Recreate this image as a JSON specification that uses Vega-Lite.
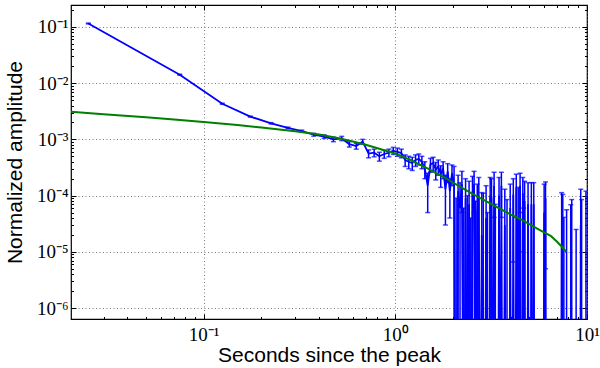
{
  "$schema": "https://vega.github.io/schema/vega-lite/v6.json",
  "width": 516,
  "height": 314,
  "autosize": {"type": "none"},
  "padding": {"left": 71, "top": 5, "right": 13, "bottom": 49},
  "background": "white",
  "config": {
    "view": {"stroke": "#000000", "strokeWidth": 1.2},
    "axis": {"tickColor": "#000000", "tickWidth": 1, "domain": false, "grid": false, "labels": false, "title": null, "labelOverlap": false, "labelFlush": false}
  },
  "datasets": {
    "model": [
      {"x": 0.02, "y": 0.0031}, {"x": 0.03, "y": 0.0028}, {"x": 0.05, "y": 0.00247}, {"x": 0.07, "y": 0.00225},
      {"x": 0.1, "y": 0.00204}, {"x": 0.15, "y": 0.0018}, {"x": 0.2, "y": 0.00163}, {"x": 0.3, "y": 0.0014},
      {"x": 0.4, "y": 0.00122}, {"x": 0.5, "y": 0.00106}, {"x": 0.6, "y": 0.00092}, {"x": 0.7, "y": 0.0008},
      {"x": 0.8, "y": 0.0007}, {"x": 0.9, "y": 0.00062}, {"x": 1.0, "y": 0.00056}, {"x": 1.1, "y": 0.00049},
      {"x": 1.2, "y": 0.00043}, {"x": 1.3, "y": 0.000375}, {"x": 1.4, "y": 0.00033}, {"x": 1.5, "y": 0.000295},
      {"x": 1.6, "y": 0.00026}, {"x": 1.8, "y": 0.00021}, {"x": 2.0, "y": 0.00017}, {"x": 2.5, "y": 0.00011},
      {"x": 3.0, "y": 0.000078}, {"x": 3.5, "y": 0.000059}, {"x": 4.0, "y": 0.000046}, {"x": 4.5, "y": 0.000038},
      {"x": 5.0, "y": 0.000031}, {"x": 5.5, "y": 0.000026}, {"x": 6.0, "y": 0.000022}, {"x": 6.5, "y": 0.000019},
      {"x": 7.0, "y": 0.000015}, {"x": 7.5, "y": 0.0000117}, {"x": 7.8, "y": 0.00001}
    ],
    "obs": [
      {"x": 0.025, "y": 0.115, "lo": 0.113, "hi": 0.117},
      {"x": 0.075, "y": 0.0141, "lo": 0.0138, "hi": 0.0144},
      {"x": 0.125, "y": 0.0043, "lo": 0.0042, "hi": 0.0044},
      {"x": 0.175, "y": 0.00254, "lo": 0.00249, "hi": 0.00259},
      {"x": 0.225, "y": 0.00193, "lo": 0.00188, "hi": 0.00198},
      {"x": 0.275, "y": 0.0016, "lo": 0.00155, "hi": 0.00165},
      {"x": 0.325, "y": 0.0014, "lo": 0.00134, "hi": 0.00146},
      {"x": 0.375, "y": 0.00121, "lo": 0.00114, "hi": 0.00128},
      {"x": 0.425, "y": 0.00112, "lo": 0.00104, "hi": 0.0012},
      {"x": 0.475, "y": 0.001, "lo": 0.00091, "hi": 0.00109},
      {"x": 0.525, "y": 0.00104, "lo": 0.00095, "hi": 0.00113},
      {"x": 0.575, "y": 0.00082, "lo": 0.00073, "hi": 0.00091},
      {"x": 0.625, "y": 0.00076, "lo": 0.00067, "hi": 0.00085},
      {"x": 0.675, "y": 0.00091, "lo": 0.00082, "hi": 0.001},
      {"x": 0.725, "y": 0.00056, "lo": 0.00047, "hi": 0.00065},
      {"x": 0.775, "y": 0.00058, "lo": 0.00049, "hi": 0.00067},
      {"x": 0.825, "y": 0.0005, "lo": 0.00041, "hi": 0.00059},
      {"x": 0.875, "y": 0.00055, "lo": 0.00046, "hi": 0.00064},
      {"x": 0.925, "y": 0.00058, "lo": 0.00049, "hi": 0.00067},
      {"x": 0.975, "y": 0.00063, "lo": 0.00054, "hi": 0.00072},
      {"x": 1.025, "y": 0.0006, "lo": 0.0005, "hi": 0.0007},
      {"x": 1.075, "y": 0.00057, "lo": 0.00047, "hi": 0.00067},
      {"x": 1.125, "y": 0.00043, "lo": 0.00033, "hi": 0.00053},
      {"x": 1.175, "y": 0.0004, "lo": 0.0003, "hi": 0.0005},
      {"x": 1.225, "y": 0.00038, "lo": 0.00028, "hi": 0.00048},
      {"x": 1.275, "y": 0.00043, "lo": 0.00033, "hi": 0.00053},
      {"x": 1.325, "y": 0.00045, "lo": 0.00035, "hi": 0.00055},
      {"x": 1.375, "y": 0.0004, "lo": 0.0003, "hi": 0.0005},
      {"x": 1.425, "y": 0.0003, "lo": 0.0002, "hi": 0.0004},
      {"x": 1.475, "y": 0.00015, "lo": 0.00005, "hi": 0.00025},
      {"x": 1.525, "y": 0.00036, "lo": 0.00026, "hi": 0.00046},
      {"x": 1.575, "y": 0.00038, "lo": 0.00028, "hi": 0.00048},
      {"x": 1.625, "y": 0.00029, "lo": 0.00019, "hi": 0.00039},
      {"x": 1.675, "y": 0.00033, "lo": 0.00023, "hi": 0.00043},
      {"x": 1.725, "y": 0.00024, "lo": 0.00014, "hi": 0.00034},
      {"x": 1.775, "y": 0.0003, "lo": 0.0002, "hi": 0.0004},
      {"x": 1.825, "y": 0.00013, "lo": 0.00003, "hi": 0.00023},
      {"x": 1.875, "y": 0.00027, "lo": 0.00017, "hi": 0.00037},
      {"x": 1.925, "y": 0.00012, "lo": 0.00004, "hi": 0.0002},
      {"x": 1.975, "y": 0.00025, "lo": 0.00015, "hi": 0.00035},
      {"x": 2.025, "y": 0.00016, "lo": 1e-10, "hi": 0.00033},
      {"x": 2.075, "y": 1e-10, "lo": 1e-10, "hi": 0.00009},
      {"x": 2.125, "y": 0.00012, "lo": 1e-10, "hi": 0.00023},
      {"x": 2.175, "y": 0.00006, "lo": 1e-10, "hi": 0.00017},
      {"x": 2.225, "y": 0.00016, "lo": 0.00005, "hi": 0.00027},
      {"x": 2.275, "y": 1e-10, "lo": 1e-10, "hi": 0.00006},
      {"x": 2.325, "y": 0.00009, "lo": 1e-10, "hi": 0.0002},
      {"x": 2.375, "y": 1e-10, "lo": 1e-10, "hi": 0.0001},
      {"x": 2.425, "y": 0.00007, "lo": 1e-10, "hi": 0.00018},
      {"x": 2.475, "y": 1e-10, "lo": 1e-10, "hi": 0.00004},
      {"x": 2.525, "y": 0.00011, "lo": 1e-10, "hi": 0.00022},
      {"x": 2.575, "y": 0.00016, "lo": 0.00005, "hi": 0.00027},
      {"x": 2.625, "y": 1e-10, "lo": 1e-10, "hi": 0.00008},
      {"x": 2.675, "y": 0.00005, "lo": 1e-10, "hi": 0.00016},
      {"x": 2.725, "y": 0.0001, "lo": 1e-10, "hi": 0.00021},
      {"x": 2.775, "y": 1e-10, "lo": 1e-10, "hi": 1e-10},
      {"x": 2.825, "y": 0.00002, "lo": 1e-10, "hi": 0.000113},
      {"x": 2.875, "y": 1e-10, "lo": 1e-10, "hi": 0.00011},
      {"x": 2.925, "y": 1e-10, "lo": 1e-10, "hi": 1e-10},
      {"x": 2.975, "y": 0.00004, "lo": 1e-10, "hi": 0.00015},
      {"x": 3.025, "y": 1e-10, "lo": 1e-10, "hi": 0.00005},
      {"x": 3.075, "y": 1e-10, "lo": 1e-10, "hi": 1e-10},
      {"x": 3.125, "y": 0.0001, "lo": 1e-10, "hi": 0.00021},
      {"x": 3.175, "y": 0.00009, "lo": 1e-10, "hi": 0.0002},
      {"x": 3.225, "y": 1e-10, "lo": 1e-10, "hi": 1e-10},
      {"x": 3.275, "y": 0.00015, "lo": 0.000041, "hi": 0.00026},
      {"x": 3.325, "y": 1e-10, "lo": 1e-10, "hi": 0.00007},
      {"x": 3.375, "y": 1e-10, "lo": 1e-10, "hi": 1e-10},
      {"x": 3.425, "y": 1e-10, "lo": 1e-10, "hi": 1e-10},
      {"x": 3.475, "y": 0.0001, "lo": 1e-10, "hi": 0.00021},
      {"x": 3.525, "y": 1e-10, "lo": 1e-10, "hi": 1e-10},
      {"x": 3.575, "y": 0.00015, "lo": 0.000041, "hi": 0.00026},
      {"x": 3.625, "y": 1e-10, "lo": 1e-10, "hi": 1e-10},
      {"x": 3.675, "y": 1e-10, "lo": 1e-10, "hi": 1e-10},
      {"x": 3.725, "y": 0.00003, "lo": 1e-10, "hi": 0.00013},
      {"x": 3.775, "y": 1e-10, "lo": 1e-10, "hi": 1e-10},
      {"x": 3.825, "y": 1e-10, "lo": 1e-10, "hi": 0.000085},
      {"x": 3.875, "y": 1e-10, "lo": 1e-10, "hi": 1e-10},
      {"x": 3.925, "y": 1e-10, "lo": 1e-10, "hi": 1e-10},
      {"x": 3.975, "y": 0.00006, "lo": 1e-10, "hi": 0.00016},
      {"x": 4.025, "y": 1e-10, "lo": 1e-10, "hi": 1e-10},
      {"x": 4.075, "y": 1e-10, "lo": 1e-10, "hi": 1e-10},
      {"x": 4.125, "y": 0.000105, "lo": 0.0000066, "hi": 0.0002},
      {"x": 4.175, "y": 1e-10, "lo": 1e-10, "hi": 1e-10},
      {"x": 4.225, "y": 1e-10, "lo": 1e-10, "hi": 1e-10},
      {"x": 4.275, "y": 0.00014, "lo": 0.000041, "hi": 0.00024},
      {"x": 4.325, "y": 1e-10, "lo": 1e-10, "hi": 1e-10},
      {"x": 4.375, "y": 0.00004, "lo": 1e-10, "hi": 0.00014},
      {"x": 4.425, "y": 1e-10, "lo": 1e-10, "hi": 1e-10},
      {"x": 4.475, "y": 0.00015, "lo": 0.00005, "hi": 0.00025},
      {"x": 4.525, "y": 1e-10, "lo": 1e-10, "hi": 1e-10},
      {"x": 4.575, "y": 1e-10, "lo": 1e-10, "hi": 1e-10},
      {"x": 4.625, "y": 0.00011, "lo": 0.00001, "hi": 0.00021},
      {"x": 4.675, "y": 1e-10, "lo": 1e-10, "hi": 0.00006},
      {"x": 4.725, "y": 0.00008, "lo": 1e-10, "hi": 0.00018},
      {"x": 4.775, "y": 1e-10, "lo": 1e-10, "hi": 1e-10},
      {"x": 4.825, "y": 1e-10, "lo": 1e-10, "hi": 1e-10},
      {"x": 4.875, "y": 1e-10, "lo": 1e-10, "hi": 1e-10},
      {"x": 4.925, "y": 0.00007, "lo": 1e-10, "hi": 0.00017},
      {"x": 4.975, "y": 1e-10, "lo": 1e-10, "hi": 1e-10},
      {"x": 5.025, "y": 1e-10, "lo": 1e-10, "hi": 1e-10},
      {"x": 5.075, "y": 1e-10, "lo": 1e-10, "hi": 1e-10},
      {"x": 5.125, "y": 0.00007, "lo": 1e-10, "hi": 0.00017},
      {"x": 5.175, "y": 1e-10, "lo": 1e-10, "hi": 1e-10},
      {"x": 5.225, "y": 1e-10, "lo": 1e-10, "hi": 1e-10},
      {"x": 5.275, "y": 0.00007, "lo": 1e-10, "hi": 0.00017},
      {"x": 5.325, "y": 1e-10, "lo": 1e-10, "hi": 1e-10},
      {"x": 5.375, "y": 1e-10, "lo": 1e-10, "hi": 1e-10},
      {"x": 5.425, "y": 1e-10, "lo": 1e-10, "hi": 1e-10},
      {"x": 5.475, "y": 1e-10, "lo": 1e-10, "hi": 1e-10},
      {"x": 5.525, "y": 1e-10, "lo": 1e-10, "hi": 1e-10},
      {"x": 5.575, "y": 1e-10, "lo": 1e-10, "hi": 1e-10},
      {"x": 5.625, "y": 1e-10, "lo": 1e-10, "hi": 1e-10},
      {"x": 5.675, "y": 1e-10, "lo": 1e-10, "hi": 1e-10},
      {"x": 5.725, "y": 1e-10, "lo": 1e-10, "hi": 1e-10},
      {"x": 5.775, "y": 1e-10, "lo": 1e-10, "hi": 1e-10},
      {"x": 5.825, "y": 1e-10, "lo": 1e-10, "hi": 1e-10},
      {"x": 5.875, "y": 1e-10, "lo": 1e-10, "hi": 1e-10},
      {"x": 5.925, "y": 1e-10, "lo": 1e-10, "hi": 1e-10},
      {"x": 5.975, "y": 0.00005, "lo": 1e-10, "hi": 0.00016},
      {"x": 6.025, "y": 1e-10, "lo": 1e-10, "hi": 1e-10},
      {"x": 6.075, "y": 0.00009, "lo": 0.000005, "hi": 0.000175},
      {"x": 6.125, "y": 1e-10, "lo": 1e-10, "hi": 1e-10},
      {"x": 6.175, "y": 1e-10, "lo": 1e-10, "hi": 1e-10},
      {"x": 6.225, "y": 1e-10, "lo": 1e-10, "hi": 1e-10},
      {"x": 6.275, "y": 1e-10, "lo": 1e-10, "hi": 1e-10},
      {"x": 6.325, "y": 1e-10, "lo": 1e-10, "hi": 1e-10},
      {"x": 6.375, "y": 1e-10, "lo": 1e-10, "hi": 1e-10},
      {"x": 6.425, "y": 1e-10, "lo": 1e-10, "hi": 1e-10},
      {"x": 6.475, "y": 1e-10, "lo": 1e-10, "hi": 1e-10},
      {"x": 6.525, "y": 1e-10, "lo": 1e-10, "hi": 1e-10},
      {"x": 6.575, "y": 1e-10, "lo": 1e-10, "hi": 1e-10},
      {"x": 6.625, "y": 1e-10, "lo": 1e-10, "hi": 1e-10},
      {"x": 6.675, "y": 1e-10, "lo": 1e-10, "hi": 1e-10},
      {"x": 6.725, "y": 1e-10, "lo": 1e-10, "hi": 1e-10},
      {"x": 6.775, "y": 1e-10, "lo": 1e-10, "hi": 1e-10},
      {"x": 6.825, "y": 1e-10, "lo": 1e-10, "hi": 1e-10},
      {"x": 6.875, "y": 1e-10, "lo": 1e-10, "hi": 1e-10},
      {"x": 6.925, "y": 1e-10, "lo": 1e-10, "hi": 1e-10},
      {"x": 6.975, "y": 1e-10, "lo": 1e-10, "hi": 1e-10},
      {"x": 7.025, "y": 1e-10, "lo": 1e-10, "hi": 1e-10},
      {"x": 7.075, "y": 1e-10, "lo": 1e-10, "hi": 1e-10},
      {"x": 7.125, "y": 1e-10, "lo": 1e-10, "hi": 1e-10},
      {"x": 7.175, "y": 1e-10, "lo": 1e-10, "hi": 1e-10},
      {"x": 7.225, "y": 1e-10, "lo": 1e-10, "hi": 1e-10},
      {"x": 7.275, "y": 1e-10, "lo": 1e-10, "hi": 1e-10},
      {"x": 7.325, "y": 1e-10, "lo": 1e-10, "hi": 1e-10},
      {"x": 7.375, "y": 0.000013, "lo": 1e-10, "hi": 0.000113},
      {"x": 7.425, "y": 1e-10, "lo": 1e-10, "hi": 1e-10},
      {"x": 7.475, "y": 1e-10, "lo": 1e-10, "hi": 0.000105},
      {"x": 7.525, "y": 1e-10, "lo": 1e-10, "hi": 1e-10},
      {"x": 7.575, "y": 1e-10, "lo": 1e-10, "hi": 0.000041},
      {"x": 7.625, "y": 1e-10, "lo": 1e-10, "hi": 1e-10},
      {"x": 7.675, "y": 1e-10, "lo": 1e-10, "hi": 1e-10},
      {"x": 7.725, "y": 1e-10, "lo": 1e-10, "hi": 1e-10},
      {"x": 7.775, "y": 1e-10, "lo": 1e-10, "hi": 1e-10},
      {"x": 7.825, "y": 1e-10, "lo": 1e-10, "hi": 0.000056},
      {"x": 7.875, "y": 1e-10, "lo": 1e-10, "hi": 1e-10},
      {"x": 7.925, "y": 1e-10, "lo": 1e-10, "hi": 1e-10},
      {"x": 7.975, "y": 1e-10, "lo": 1e-10, "hi": 1e-10},
      {"x": 8.025, "y": 1e-10, "lo": 1e-10, "hi": 1e-10},
      {"x": 8.075, "y": 1e-10, "lo": 1e-10, "hi": 1e-10},
      {"x": 8.125, "y": 1e-10, "lo": 1e-10, "hi": 1e-10},
      {"x": 8.175, "y": 1e-10, "lo": 1e-10, "hi": 1e-10},
      {"x": 8.225, "y": 1e-10, "lo": 1e-10, "hi": 0.000069},
      {"x": 8.275, "y": 1e-10, "lo": 1e-10, "hi": 1e-10},
      {"x": 8.325, "y": 1e-10, "lo": 1e-10, "hi": 0.000085},
      {"x": 8.375, "y": 1e-10, "lo": 1e-10, "hi": 1e-10},
      {"x": 8.425, "y": 1e-10, "lo": 1e-10, "hi": 1e-10},
      {"x": 8.475, "y": 1e-10, "lo": 1e-10, "hi": 1e-10},
      {"x": 8.525, "y": 1e-10, "lo": 1e-10, "hi": 1e-10},
      {"x": 8.575, "y": 1e-10, "lo": 1e-10, "hi": 1e-10},
      {"x": 8.625, "y": 1e-10, "lo": 1e-10, "hi": 1e-10},
      {"x": 8.675, "y": 1e-10, "lo": 1e-10, "hi": 1e-10},
      {"x": 8.725, "y": 1e-10, "lo": 1e-10, "hi": 1e-10},
      {"x": 8.775, "y": 1e-10, "lo": 1e-10, "hi": 0.000025},
      {"x": 8.825, "y": 1e-10, "lo": 1e-10, "hi": 1e-10},
      {"x": 8.875, "y": 1e-10, "lo": 1e-10, "hi": 1e-10},
      {"x": 8.925, "y": 1e-10, "lo": 1e-10, "hi": 1e-10},
      {"x": 8.975, "y": 1e-10, "lo": 1e-10, "hi": 1e-10},
      {"x": 9.025, "y": 1e-10, "lo": 1e-10, "hi": 1e-10},
      {"x": 9.075, "y": 1e-10, "lo": 1e-10, "hi": 1e-10},
      {"x": 9.125, "y": 1e-10, "lo": 1e-10, "hi": 1e-10},
      {"x": 9.175, "y": 1e-10, "lo": 1e-10, "hi": 1e-10},
      {"x": 9.225, "y": 1e-10, "lo": 1e-10, "hi": 1e-10},
      {"x": 9.275, "y": 0.00003, "lo": 1e-10, "hi": 0.00013},
      {"x": 9.325, "y": 1e-10, "lo": 1e-10, "hi": 1e-10},
      {"x": 9.375, "y": 1e-10, "lo": 1e-10, "hi": 0.000085},
      {"x": 9.425, "y": 1e-10, "lo": 1e-10, "hi": 1e-10},
      {"x": 9.475, "y": 1e-10, "lo": 1e-10, "hi": 1e-10},
      {"x": 9.525, "y": 1e-10, "lo": 1e-10, "hi": 1e-10},
      {"x": 9.575, "y": 1e-10, "lo": 1e-10, "hi": 1e-10},
      {"x": 9.625, "y": 1e-10, "lo": 1e-10, "hi": 1e-10},
      {"x": 9.675, "y": 1e-10, "lo": 1e-10, "hi": 1e-10},
      {"x": 9.725, "y": 1e-10, "lo": 1e-10, "hi": 1e-10},
      {"x": 9.775, "y": 1e-10, "lo": 1e-10, "hi": 1e-10},
      {"x": 9.825, "y": 1e-10, "lo": 1e-10, "hi": 1e-10},
      {"x": 9.875, "y": 1e-10, "lo": 1e-10, "hi": 0.00012},
      {"x": 9.925, "y": 1e-10, "lo": 1e-10, "hi": 1e-10},
      {"x": 9.975, "y": 1e-10, "lo": 1e-10, "hi": 1e-10}
    ]
  },
  "layer": [
    {
      "data": {"name": "obs"},
      "mark": {"type": "rule", "color": "#0000ff", "strokeWidth": 1.5, "clip": true},
      "encoding": {
        "x": {"field": "x", "type": "quantitative", "scale": {"type": "log", "domain": [0.0203, 10], "nice": false},
              "axis": {"orient": "bottom", "values": [0.1, 1, 10], "ticks": true, "tickSize": -5}},
        "y": {"field": "lo", "type": "quantitative", "scale": {"type": "log", "domain": [6.4e-7, 0.245], "nice": false},
              "axis": {"orient": "left", "values": [1e-6, 1e-5, 1e-4, 1e-3, 1e-2, 1e-1], "ticks": true, "tickSize": -5}},
        "y2": {"field": "hi"}
      }
    },
    {
      "data": {"name": "obs"},
      "mark": {"type": "tick", "orient": "horizontal", "color": "#0000ff", "size": 5, "thickness": 1.5, "clip": true},
      "encoding": {
        "x": {"field": "x", "type": "quantitative", "scale": {"type": "log", "domain": [0.0203, 10], "nice": false},
              "axis": {"orient": "bottom", "values": [0.03, 0.04, 0.05, 0.06, 0.07, 0.08, 0.09, 0.2, 0.3, 0.4, 0.5, 0.6, 0.7, 0.8, 0.9, 2, 3, 4, 5, 6, 7, 8, 9], "ticks": true, "tickSize": -2.5}},
        "y": {"field": "hi", "type": "quantitative", "scale": {"type": "log", "domain": [6.4e-7, 0.245], "nice": false},
              "axis": {"orient": "left", "values": [2e-6, 3e-6, 4e-6, 5e-6, 6e-6, 7e-6, 8e-6, 9e-6, 2e-5, 3e-5, 4e-5, 5e-5, 6e-5, 7e-5, 8e-5, 9e-5, 2e-4, 3e-4, 4e-4, 5e-4, 6e-4, 7e-4, 8e-4, 9e-4, 2e-3, 3e-3, 4e-3, 5e-3, 6e-3, 7e-3, 8e-3, 9e-3, 2e-2, 3e-2, 4e-2, 5e-2, 6e-2, 7e-2, 8e-2, 9e-2, 2e-1], "ticks": true, "tickSize": -2.5}}
      }
    },
    {
      "data": {"name": "obs"},
      "mark": {"type": "tick", "orient": "horizontal", "color": "#0000ff", "size": 5, "thickness": 1.5, "clip": true},
      "encoding": {
        "x": {"field": "x", "type": "quantitative", "scale": {"type": "log", "domain": [0.0203, 10], "nice": false},
              "axis": {"orient": "top", "values": [0.1, 1, 10], "ticks": true, "tickSize": -5}},
        "y": {"field": "lo", "type": "quantitative", "scale": {"type": "log", "domain": [6.4e-7, 0.245], "nice": false},
              "axis": {"orient": "right", "values": [1e-6, 1e-5, 1e-4, 1e-3, 1e-2, 1e-1], "ticks": true, "tickSize": -5}}
      }
    },
    {
      "data": {"name": "obs"},
      "mark": {"type": "line", "color": "#0000ff", "strokeWidth": 1.8, "clip": true},
      "encoding": {
        "x": {"field": "x", "type": "quantitative", "scale": {"type": "log", "domain": [0.0203, 10], "nice": false},
              "axis": {"orient": "top", "values": [0.03, 0.04, 0.05, 0.06, 0.07, 0.08, 0.09, 0.2, 0.3, 0.4, 0.5, 0.6, 0.7, 0.8, 0.9, 2, 3, 4, 5, 6, 7, 8, 9], "ticks": true, "tickSize": -2.5}},
        "y": {"field": "y", "type": "quantitative", "scale": {"type": "log", "domain": [6.4e-7, 0.245], "nice": false},
              "axis": {"orient": "right", "values": [2e-6, 3e-6, 4e-6, 5e-6, 6e-6, 7e-6, 8e-6, 9e-6, 2e-5, 3e-5, 4e-5, 5e-5, 6e-5, 7e-5, 8e-5, 9e-5, 2e-4, 3e-4, 4e-4, 5e-4, 6e-4, 7e-4, 8e-4, 9e-4, 2e-3, 3e-3, 4e-3, 5e-3, 6e-3, 7e-3, 8e-3, 9e-3, 2e-2, 3e-2, 4e-2, 5e-2, 6e-2, 7e-2, 8e-2, 9e-2, 2e-1], "ticks": true, "tickSize": -2.5}}
      }
    },
    {
      "data": {"name": "model"},
      "mark": {"type": "line", "color": "#008000", "strokeWidth": 2, "clip": true},
      "encoding": {
        "x": {"field": "x", "type": "quantitative", "scale": {"type": "log", "domain": [0.0203, 10], "nice": false},
              "axis": {"orient": "bottom", "values": [0.1, 1, 10], "ticks": false, "grid": true, "gridColor": "#555555", "gridDash": [1, 2.5], "gridWidth": 0.8,
                       "labels": true, "labelExpr": "datum.value < 0.5 ? '10⁻¹' : datum.value < 5 ? '10⁰' : '10¹'",
                       "labelFont": "Liberation Serif", "labelFontSize": 19, "labelColor": "#000000", "labelPadding": 6,
                       "title": "Seconds since the peak", "titleFont": "Liberation Sans", "titleFontSize": 21, "titleFontWeight": "normal", "titleColor": "#000000",
                       "titleX": 258, "titleY": 42, "titleBaseline": "alphabetic", "titleAlign": "center"}},
        "y": {"field": "y", "type": "quantitative", "scale": {"type": "log", "domain": [6.4e-7, 0.245], "nice": false},
              "axis": {"orient": "left", "values": [1e-6, 1e-5, 1e-4, 1e-3, 1e-2, 1e-1], "ticks": false, "grid": true, "gridColor": "#555555", "gridDash": [1, 2.5], "gridWidth": 0.8,
                       "labels": true, "labelExpr": "datum.value < 5e-6 ? '10⁻⁶' : datum.value < 5e-5 ? '10⁻⁵' : datum.value < 5e-4 ? '10⁻⁴' : datum.value < 5e-3 ? '10⁻³' : datum.value < 5e-2 ? '10⁻²' : '10⁻¹'",
                       "labelFont": "Liberation Serif", "labelFontSize": 19, "labelColor": "#000000", "labelPadding": 3,
                       "title": "Normalized amplitude", "titleFont": "Liberation Sans", "titleFontSize": 21, "titleFontWeight": "normal", "titleColor": "#000000",
                       "titleX": -50, "titleY": 157, "titleAngle": 270, "titleBaseline": "alphabetic", "titleAlign": "center"}}
      }
    }
  ],
  "resolve": {"axis": {"x": "independent", "y": "independent"}}
}
